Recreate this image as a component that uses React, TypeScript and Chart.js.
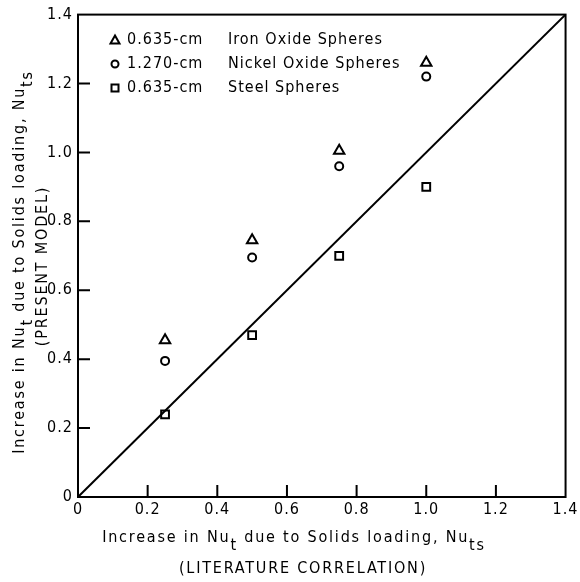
import React, { useEffect, useRef } from "react";
import { Chart, registerables } from "chart.js";

Chart.register(...registerables);

const xCategories = [0.25, 0.5, 0.75, 1.0];
const ironOxide = [0.455, 0.745, 1.005, 1.26];
const nickelOxide = [0.395, 0.695, 0.96, 1.22];
const steel = [0.24, 0.47, 0.7, 0.9];
const parityLine = [
  { x: 0, y: 0 },
  { x: 1.4, y: 1.4 },
];
const tickValues = [0, 0.2, 0.4, 0.6, 0.8, 1.0, 1.2, 1.4];
const legendSizes = ["0.635-cm", "1.270-cm", "0.635-cm"];
const legendNames = ["Iron Oxide Spheres", "Nickel Oxide Spheres", "Steel Spheres"];
const legendStyles = ["triangle", "circle", "rect"];

const FONT = '"DejaVu Sans Condensed", "DejaVu Sans", sans-serif';

type Seg = { t: string; sub?: boolean };

function segWidth(ctx: CanvasRenderingContext2D, segs: Seg[], size: number, subSize: number) {
  let w = 0;
  for (const s of segs) {
    ctx.font = `${s.sub ? subSize : size}px ${FONT}`;
    w += ctx.measureText(s.t).width;
  }
  return w;
}

function drawSegs(ctx: CanvasRenderingContext2D, segs: Seg[], cx: number, cy: number, size: number, subSize: number) {
  const w = segWidth(ctx, segs, size, subSize);
  let x = cx - w / 2;
  ctx.textBaseline = "middle";
  ctx.textAlign = "left";
  for (const s of segs) {
    ctx.font = `${s.sub ? subSize : size}px ${FONT}`;
    ctx.fillText(s.t, x, s.sub ? cy + size * 0.5 : cy);
    x += ctx.measureText(s.t).width;
  }
}

function drawMarker(ctx: CanvasRenderingContext2D, style: string, x: number, y: number) {
  ctx.save();
  ctx.strokeStyle = "#000";
  ctx.fillStyle = "#fff";
  ctx.lineWidth = 2;
  ctx.beginPath();
  if (style === "triangle") {
    ctx.moveTo(x, y - 4.5);
    ctx.lineTo(x + 4.5, y + 3.5);
    ctx.lineTo(x - 4.5, y + 3.5);
    ctx.closePath();
  } else if (style === "circle") {
    ctx.arc(x, y, 3.5, 0, Math.PI * 2);
  } else {
    ctx.rect(x - 3.5, y - 3.5, 7, 7);
  }
  ctx.fill();
  ctx.stroke();
  ctx.restore();
}

const spacingPlugin = {
  id: "spacing",
  beforeDraw(chart: any) {
    (chart.ctx as any).letterSpacing = "1px";
  },
};

const decorPlugin = {
  id: "decor",
  afterDraw(chart: any) {
    const ctx: CanvasRenderingContext2D = chart.ctx;
    const { left, right, top, bottom } = chart.chartArea;
    const xs = chart.scales.x;
    const ys = chart.scales.y;
    ctx.save();
    ctx.strokeStyle = "#000";
    ctx.lineWidth = 2;
    ctx.strokeRect(left, top, right - left, bottom - top);
    ctx.beginPath();
    for (const v of tickValues) {
      if (v === 0 || v === 1.4) continue;
      const px = xs.getPixelForValue(v);
      ctx.moveTo(px, bottom);
      ctx.lineTo(px, bottom - 12);
      const py = ys.getPixelForValue(v);
      ctx.moveTo(left, py);
      ctx.lineTo(left + 12, py);
    }
    ctx.stroke();

    ctx.fillStyle = "#000";
    (ctx as any).letterSpacing = "1px";
    // legend
    const rows = [40, 64, 88];
    rows.forEach((ry, i) => {
      drawMarker(ctx, legendStyles[i], 115, ry);
      ctx.fillStyle = "#000";
      ctx.font = `16px ${FONT}`;
      ctx.textBaseline = "middle";
      ctx.textAlign = "left";
      ctx.fillText(legendSizes[i], 127, ry);
      ctx.fillText(legendNames[i], 228, ry);
    });

    (ctx as any).letterSpacing = "1.8px";
    // x title
    const titleSegs: Seg[] = [
      { t: "Increase in Nu" },
      { t: "t", sub: true },
      { t: " due to Solids loading, Nu" },
      { t: "ts", sub: true },
    ];
    drawSegs(ctx, titleSegs, 294, 538, 16, 16);
    drawSegs(ctx, [{ t: "(LITERATURE CORRELATION)" }], 303, 569, 16, 16);

    // y title
    ctx.save();
    ctx.translate(20, 262);
    ctx.rotate(-Math.PI / 2);
    drawSegs(ctx, titleSegs, 0, 0, 16, 16);
    ctx.restore();
    ctx.save();
    ctx.translate(43, 266);
    ctx.rotate(-Math.PI / 2);
    drawSegs(ctx, [{ t: "(PRESENT MODEL)" }], 0, 0, 16, 16);
    ctx.restore();
    ctx.restore();
  },
};

export default function App() {
  const ref = useRef<HTMLCanvasElement>(null);
  useEffect(() => {
    if (!ref.current) return;
    const mk = (data: number[], label: string, style: string, r: number) => ({
      type: "scatter" as const,
      label,
      data: xCategories.map((x, i) => ({ x, y: data[i] })),
      pointStyle: style,
      pointRadius: r,
      pointBackgroundColor: "#fff",
      pointBorderColor: "#000",
      pointBorderWidth: 2,
      showLine: false,
    });
    const tickFmt = (v: any) => (Number(v) === 0 ? "0" : Number(v).toFixed(1));
    const chart = new Chart(ref.current, {
      type: "scatter",
      data: {
        datasets: [
          {
            type: "line" as const,
            label: "Parity",
            data: parityLine,
            borderColor: "#000",
            borderWidth: 2,
            pointRadius: 0,
            fill: false,
          } as any,
          mk(ironOxide, "0.635-cm Iron Oxide Spheres", "triangle", 6),
          mk(nickelOxide, "1.270-cm Nickel Oxide Spheres", "circle", 4),
          mk(steel, "0.635-cm Steel Spheres", "rect", 5.5),
        ],
      },
      options: {
        animation: false,
        responsive: false,
        maintainAspectRatio: false,
        layout: { padding: { left: 0, top: 13, right: 14, bottom: 0 } },
        plugins: { legend: { display: false }, tooltip: { enabled: false } },
        scales: {
          x: {
            type: "linear",
            min: 0,
            max: 1.4,
            afterBuildTicks: (s: any) => {
              s.ticks = tickValues.map((v) => ({ value: v }));
            },
            afterFit: (s: any) => {
              s.height = 85;
            },
            grid: { display: false, drawTicks: false },
            border: { display: false },
            ticks: {
              color: "#000",
              font: { family: FONT, size: 16 },
              padding: 3,
              maxRotation: 0,
              callback: tickFmt,
            },
          },
          y: {
            type: "linear",
            min: 0,
            max: 1.4,
            afterBuildTicks: (s: any) => {
              s.ticks = tickValues.map((v) => ({ value: v }));
            },
            afterFit: (s: any) => {
              s.width = 78;
            },
            grid: { display: false, drawTicks: false },
            border: { display: false },
            ticks: {
              color: "#000",
              font: { family: FONT, size: 16 },
              padding: 5,
              callback: tickFmt,
            },
          },
        },
      },
      plugins: [spacingPlugin, decorPlugin],
    } as any);
    return () => chart.destroy();
  }, []);
  return (
    <div style={{ position: "fixed", left: 0, top: 0, width: 580, height: 582, background: "#fff" }}>
      <canvas ref={ref} width={580} height={582} style={{ width: 580, height: 582 }} />
    </div>
  );
}
